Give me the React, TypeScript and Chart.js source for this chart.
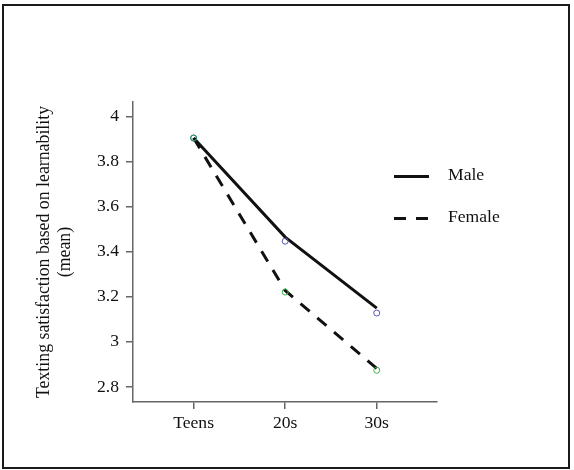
import React, { useEffect, useRef } from "react";
import { Chart, registerables } from "chart.js";

Chart.register(...registerables);

// Age groups along the x axis
const categories = ["Teens", "20s", "30s"];

// Mean learnability satisfaction, traced lines
const maleLine = [3.905, 3.465, 3.15];
const femaleLine = [3.905, 3.228, 2.882];

// Mean markers for each group
const maleMeans = [3.905, 3.447, 3.128];
const femaleMeans = [3.905, 3.221, 2.874];

// Value axis ticks and range
const yTicks = [2.8, 3, 3.2, 3.4, 3.6, 3.8, 4];
const yMin = 2.733;
const yMax = 4.065;

const seriesNames = ["Male", "Female"];

const FONT = "'Liberation Serif', 'Times New Roman', serif";
const INK = "#111111";
const AXIS = "#666666";
const GREEN_DARK = "#2f8f6a";
const GREEN = "#3cb04a";
const BLUE = "#5a5ab8";
const TEXT_SIZE = 17.6;

const toPoints = (vals: number[]) => vals.map((y, i) => ({ x: i, y }));

// Draws the line-style key to the right of the plot
const keyPlugin = {
  id: "lineKey",
  afterDraw(chart: any) {
    const ctx = chart.ctx;
    const entries = [
      { label: seriesNames[0], dash: [] as number[], y: 176.5 },
      { label: seriesNames[1], dash: [12, 10], y: 218.5 },
    ];
    ctx.save();
    for (const e of entries) {
      ctx.beginPath();
      ctx.setLineDash(e.dash);
      ctx.lineWidth = 3;
      ctx.strokeStyle = INK;
      ctx.lineCap = "butt";
      ctx.moveTo(394, e.y);
      ctx.lineTo(429, e.y);
      ctx.stroke();
      ctx.setLineDash([]);
      ctx.fillStyle = INK;
      ctx.font = `${TEXT_SIZE}px ${FONT}`;
      ctx.textAlign = "left";
      ctx.textBaseline = "middle";
      ctx.fillText(e.label, 448, e.y - 1);
    }
    ctx.restore();
  },
};

export default function App() {
  const canvasRef = useRef<HTMLCanvasElement | null>(null);

  useEffect(() => {
    if (!canvasRef.current) return;
    const chart = new Chart(canvasRef.current, {
      type: "line",
      data: {
        datasets: [
          {
            label: "Male means",
            data: toPoints(maleMeans),
            showLine: false,
            pointRadius: 3,
            pointBorderWidth: 1,
            pointBackgroundColor: "rgba(0,0,0,0)",
            pointBorderColor: [GREEN_DARK, BLUE, BLUE],
            order: 0,
          },
          {
            label: "Female means",
            data: toPoints(femaleMeans),
            showLine: false,
            pointRadius: 3,
            pointBorderWidth: 1,
            pointBackgroundColor: "rgba(0,0,0,0)",
            pointBorderColor: [GREEN_DARK, GREEN, GREEN],
            order: 0,
          },
          {
            label: seriesNames[0],
            data: toPoints(maleLine),
            borderColor: INK,
            borderWidth: 3,
            pointRadius: 0,
            tension: 0,
            fill: false,
            order: 1,
          },
          {
            label: seriesNames[1],
            data: toPoints(femaleLine),
            borderColor: INK,
            borderWidth: 3,
            borderDash: [12, 10],
            pointRadius: 0,
            tension: 0,
            fill: false,
            order: 1,
          },
        ],
      },
      options: {
        responsive: false,
        animation: false,
        layout: { padding: { top: 102, right: 137, bottom: 0, left: 0 } },
        plugins: {
          legend: { display: false },
          tooltip: { enabled: false },
          title: { display: false },
        },
        scales: {
          x: {
            type: "linear",
            min: -0.662,
            max: 2.658,
            afterBuildTicks: (scale: any) => {
              scale.ticks = categories.map((_, i) => ({ value: i }));
            },
            afterFit: (scale: any) => {
              scale.height = 68;
            },
            ticks: {
              callback: (v: any) => categories[Number(v)] ?? "",
              color: INK,
              font: { family: FONT, size: TEXT_SIZE },
              padding: 4,
              maxRotation: 0,
              autoSkip: false,
            },
            grid: {
              drawOnChartArea: false,
              drawTicks: true,
              tickLength: 7,
              color: AXIS,
              lineWidth: 1.5,
            },
            border: { display: true, color: AXIS, width: 1.5 },
          },
          y: {
            type: "linear",
            min: yMin,
            max: yMax,
            afterBuildTicks: (scale: any) => {
              scale.ticks = yTicks.map((value) => ({ value }));
            },
            afterFit: (scale: any) => {
              scale.width = 133;
            },
            ticks: {
              callback: (v: any) => String(v),
              color: INK,
              font: { family: FONT, size: TEXT_SIZE },
              padding: 7,
              autoSkip: false,
            },
            grid: {
              drawOnChartArea: false,
              drawTicks: true,
              tickLength: 7,
              color: AXIS,
              lineWidth: 1.5,
            },
            border: { display: true, color: AXIS, width: 1.5 },
            title: {
              display: true,
              text: ["Texting satisfaction based on learnability", "(mean)"],
              color: INK,
              font: { family: FONT, size: 17.8, lineHeight: 1.18 },
              padding: { top: 34, bottom: 0 },
            },
          },
        },
      },
      plugins: [keyPlugin],
    });
    return () => chart.destroy();
  }, []);

  return (
    <div
      style={{
        position: "fixed",
        left: 0,
        top: 0,
        width: 574,
        height: 470,
        background: "#ffffff",
      }}
    >
      <canvas
        ref={canvasRef}
        width={574}
        height={470}
        style={{ position: "absolute", left: 0, top: 0 }}
      />
      <div
        style={{
          position: "absolute",
          left: 2,
          top: 4,
          width: 568,
          height: 465,
          boxSizing: "border-box",
          border: "2px solid #1a1a1a",
          pointerEvents: "none",
        }}
      />
    </div>
  );
}
